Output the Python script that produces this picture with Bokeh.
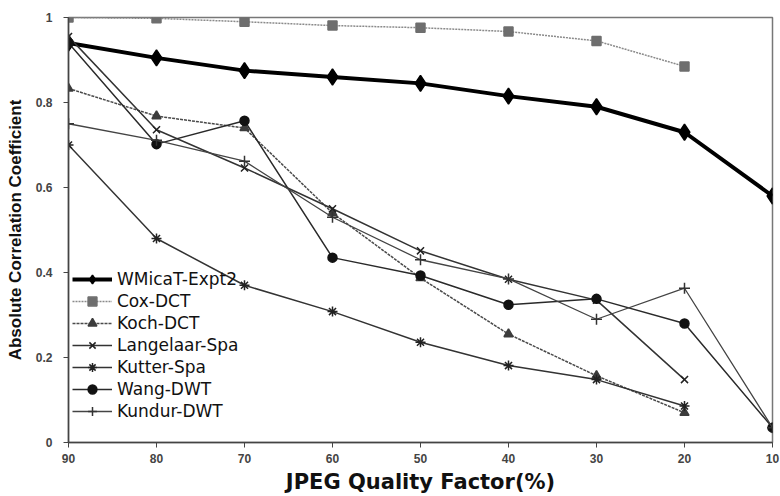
from bokeh.plotting import figure
from bokeh.models import Range1d, FixedTicker, Legend, LegendItem
from bokeh.embed import file_html
from bokeh.resources import INLINE

# JPEG quality factor (%) on the x axis, descending left to right
quality = [90, 80, 70, 60, 50, 40, 30, 20, 10]

# Absolute correlation coefficient per watermarking method
wmicat_expt2 = [0.94, 0.905, 0.875, 0.86, 0.845, 0.815, 0.79, 0.73, 0.58]
cox_dct = [1.0, 0.998, 0.99, 0.981, 0.976, 0.967, 0.945, 0.885]
koch_dct = [0.833, 0.768, 0.74, 0.54, 0.387, 0.255, 0.157, 0.07]
langelaar_spa = [0.955, 0.736, 0.646, 0.55, 0.451, 0.384, 0.335, 0.148]
kutter_spa = [0.70, 0.48, 0.37, 0.308, 0.236, 0.181, 0.148, 0.086]
wang_dwt = [0.94, 0.702, 0.757, 0.435, 0.393, 0.324, 0.338, 0.28, 0.035]
kundur_dwt = [0.75, 0.711, 0.662, 0.53, 0.43, 0.385, 0.29, 0.363, 0.035]

y_ticks = [0, 0.2, 0.4, 0.6, 0.8, 1.0]
y_tick_labels = ["0", "0.2", "0.4", "0.6", "0.8", "1"]

p = figure(width=780, height=496, output_backend="svg", toolbar_location=None,
           x_range=Range1d(90, 10), y_range=Range1d(0, 1),
           min_border_left=68, min_border_right=8, min_border_top=17,
           min_border_bottom=47)

p.xgrid.visible = False
p.ygrid.visible = False
p.outline_line_color = "#777777"
p.outline_line_width = 1.5

# axes
p.xaxis.ticker = FixedTicker(ticks=quality)
p.yaxis.ticker = FixedTicker(ticks=y_ticks)
p.yaxis.major_label_overrides = dict(zip(y_ticks, y_tick_labels))
for ax in (p.xaxis[0], p.yaxis[0]):
    ax.axis_line_color = "#444444"
    ax.axis_line_width = 1.5
    ax.major_tick_line_color = "#444444"
    ax.major_tick_out = 5
    ax.major_tick_in = 0
    ax.minor_tick_line_color = None
    ax.major_label_text_font = "Liberation Sans"
    ax.major_label_text_font_style = "bold"
    ax.major_label_text_font_size = "12px"
    ax.major_label_text_color = "#444444"
    ax.axis_label_text_font_style = "bold"
    ax.axis_label_text_color = "#111111"

p.xaxis.axis_label = "JPEG Quality Factor(%)"
p.xaxis.axis_label_text_font = "DejaVu Sans"
p.xaxis.axis_label_text_font_size = "21px"
p.xaxis.major_label_standoff = 6
p.xaxis.axis_label_standoff = 4

p.yaxis.axis_label = "Absolute Correlation Coefficient"
p.yaxis.axis_label_text_font = "Liberation Sans"
p.yaxis.axis_label_text_font_size = "17px"
p.yaxis.major_label_standoff = 11
p.yaxis.axis_label_standoff = 8

items = []

def series(label, ys, line_color, line_width, dash, marker, size, fill):
    xs = quality[:len(ys)]
    r1 = p.line(xs, ys, line_color=line_color, line_width=line_width, line_dash=dash)
    r2 = p.scatter(xs, ys, marker=marker, size=size, line_color=fill,
                   fill_color=fill, line_width=1.5)
    items.append(LegendItem(label=label, renderers=[r1, r2]))

series("WMicaT-Expt2", wmicat_expt2, "#000000", 4, "solid", "diamond", 16, "#000000")
series("Cox-DCT", cox_dct, "#8a8a8a", 1.5, "2 1", "square", 9, "#6e6e6e")
series("Koch-DCT", koch_dct, "#4a4a4a", 1.5, "3 1", "triangle", 9, "#3c3c3c")
series("Langelaar-Spa", langelaar_spa, "#333333", 1.5, "solid", "x", 10, "#222222")
series("Kutter-Spa", kutter_spa, "#333333", 1.5, "solid", "asterisk", 10, "#222222")
series("Wang-DWT", wang_dwt, "#2a2a2a", 1.5, "solid", "circle", 9, "#111111")
series("Kundur-DWT", kundur_dwt, "#444444", 1.3, "solid", "cross", 11, "#333333")

legend = Legend(items=items, location=(4, 20))
legend.background_fill_alpha = 0
legend.border_line_alpha = 0
legend.padding = 0
legend.margin = 0
legend.spacing = 0
legend.glyph_width = 40
legend.glyph_height = 22
legend.label_height = 22
legend.label_standoff = 5
legend.label_text_font = "DejaVu Sans"
legend.label_text_font_size = "17px"
legend.label_text_color = "#111111"
p.add_layout(legend)

open("out.html", "w").write(file_html(p, INLINE))
